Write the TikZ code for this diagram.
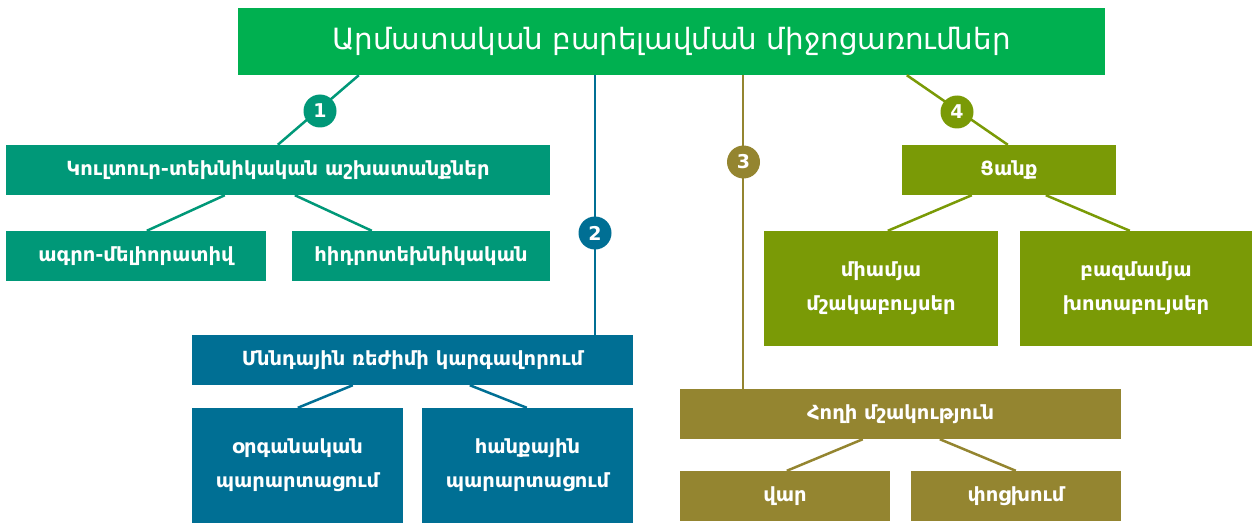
\documentclass[tikz,border=0pt]{standalone}
\usepackage{fontspec}
\setmainfont{DejaVu Sans}
\usetikzlibrary{calc}
\definecolor{cTitle}{RGB}{0,176,80}
\definecolor{cOne}{RGB}{0,152,120}
\definecolor{cTwo}{RGB}{0,111,148}
\definecolor{cThree}{RGB}{148,133,48}
\definecolor{cFour}{RGB}{122,154,6}
\begin{document}
\begin{tikzpicture}[x=1pt,y=1pt,
  box/.style={rectangle, fill=#1, text=white, inner sep=0pt, align=center, font=\bfseries\fontsize{19.5}{34}\selectfont},
  num/.style={circle, fill=#1, text=white, minimum size=33pt, inner sep=0pt, font=\bfseries\fontsize{19}{19}\selectfont},
  conn/.style={draw=#1, line width=2.5pt}]
\useasboundingbox (0,0) rectangle (1252,-524);
% title
\node[rectangle, fill=cTitle, text=white, minimum width=867pt, minimum height=67pt, inner sep=0pt,
  font=\fontsize{29.3}{29.3}\selectfont] (title) at (671.5,-41.5) {Արմատական բարելավման միջոցառումներ};
% branch 1
\node[box=cOne, minimum width=544pt, minimum height=50pt] (A) at (278,-170) {Կուլտուր-տեխնիկական աշխատանքներ};
\node[box=cOne, minimum width=260pt, minimum height=50pt] (A1) at (136,-256) {ագրո-մելիորատիվ};
\node[box=cOne, minimum width=258pt, minimum height=50pt] (A2) at (421,-256) {հիդրոտեխնիկական};
% branch 2
\node[box=cTwo, minimum width=441pt, minimum height=50pt] (B) at (412.5,-360) {Մննդային ռեժիմի կարգավորում};
\node[box=cTwo, minimum width=211pt, minimum height=115pt] (B1) at (297.5,-465.5) {օրգանական\\պարարտացում};
\node[box=cTwo, minimum width=211pt, minimum height=115pt] (B2) at (527.5,-465.5) {հանքային\\պարարտացում};
% branch 3
\node[box=cThree, minimum width=441pt, minimum height=50pt] (C) at (900.5,-414) {Հողի մշակություն};
\node[box=cThree, minimum width=210pt, minimum height=50pt] (C1) at (785,-496) {վար};
\node[box=cThree, minimum width=210pt, minimum height=50pt] (C2) at (1016,-496) {փոցխում};
% branch 4
\node[box=cFour, minimum width=214pt, minimum height=50pt] (D) at (1009,-170) {Ցանք};
\node[box=cFour, minimum width=234pt, minimum height=115pt] (D1) at (881,-288.5) {միամյա\\մշակաբույսեր};
\node[box=cFour, minimum width=232pt, minimum height=115pt] (D2) at (1136,-288.5) {բազմամյա\\խոտաբույսեր};
% connectors
\coordinate (t1) at ($(title.south west)+(121,0)$);
\coordinate (t2) at ($(title.south west)+(357,0)$);
\coordinate (t3) at ($(title.south west)+(505,0)$);
\coordinate (t4) at ($(title.south west)+(669,0)$);
\draw[conn=cOne] (t1) -- ($(A.north west)+(272,0)$);
\draw[conn=cTwo] (t2) -- (t2 |- B.north);
\draw[conn=cThree] (t3) -- (t3 |- C.north);
\draw[conn=cFour] (t4) -- ($(D.north west)+(106,0)$);
\draw[conn=cOne] ($(A.south west)+(219,0)$) -- ($(A1.north west)+(141,0)$);
\draw[conn=cOne] ($(A.south west)+(289,0)$) -- ($(A2.north west)+(80,0)$);
\draw[conn=cTwo] ($(B.south west)+(161,0)$) -- ($(B1.north west)+(106,0)$);
\draw[conn=cTwo] ($(B.south west)+(278,0)$) -- ($(B2.north west)+(105,0)$);
\draw[conn=cThree] ($(C.south west)+(183,0)$) -- ($(C1.north west)+(107,0)$);
\draw[conn=cThree] ($(C.south west)+(260,0)$) -- ($(C2.north west)+(105,0)$);
\draw[conn=cFour] ($(D.south west)+(70,0)$) -- ($(D1.north west)+(124,0)$);
\draw[conn=cFour] ($(D.south west)+(144,0)$) -- ($(D2.north west)+(110,0)$);
% numbered circles
\node[num=cOne] (n1) at (320,-111) {1};
\node[num=cTwo] (n2) at (595,-233) {2};
\node[num=cThree] (n3) at (743.5,-162) {3};
\node[num=cFour] (n4) at (957,-112) {4};
\end{tikzpicture}
\end{document}
